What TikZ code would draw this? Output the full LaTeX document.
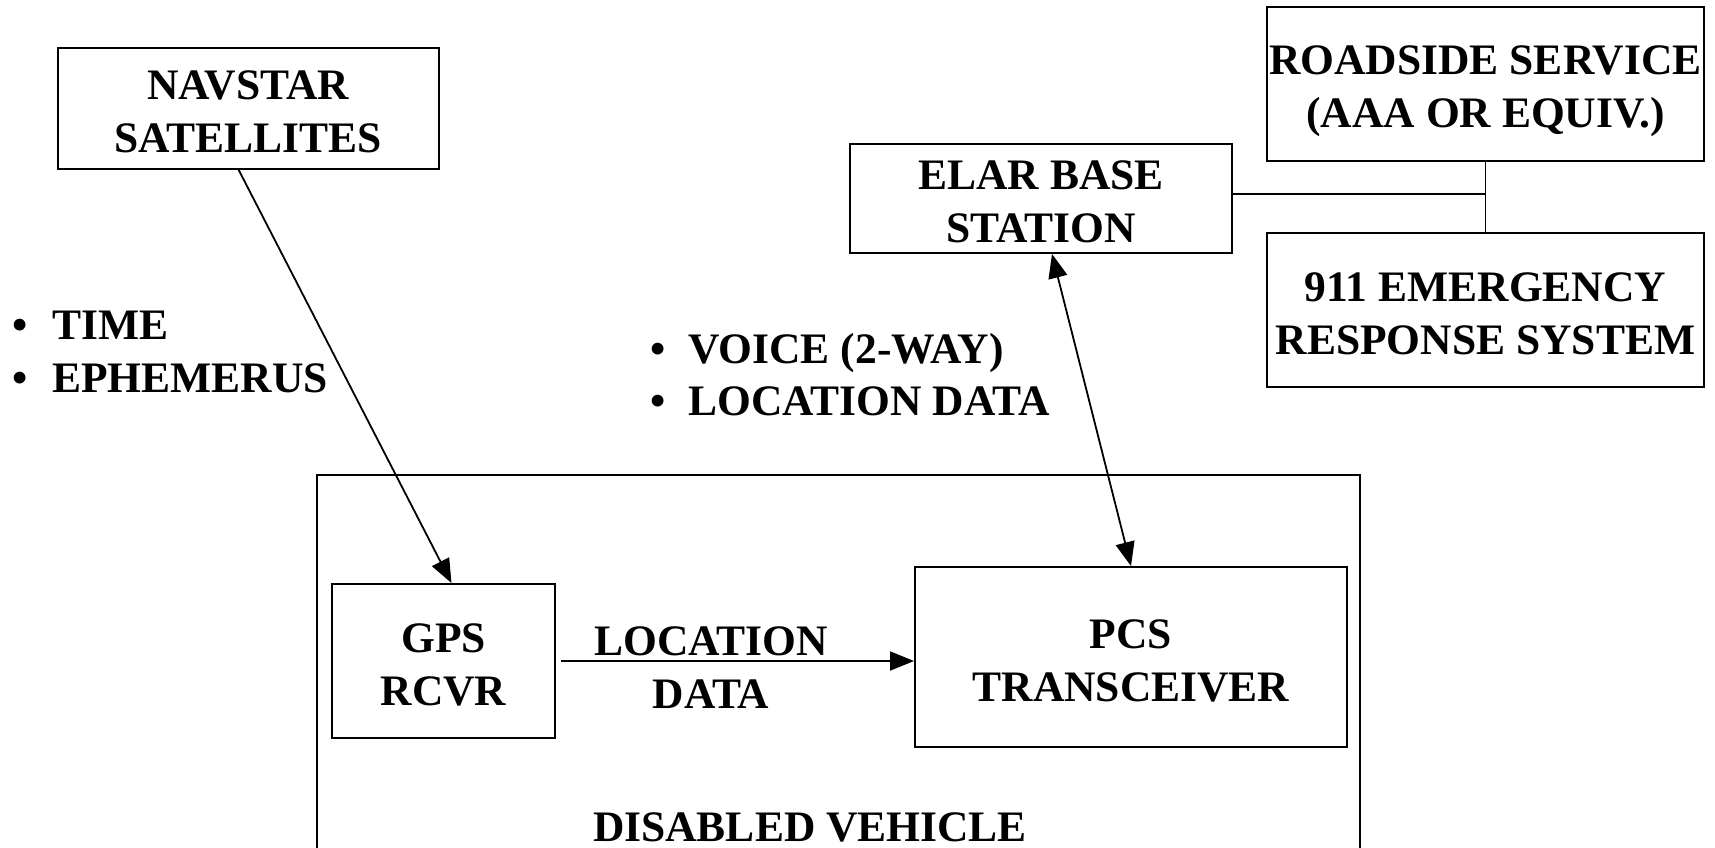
\documentclass[tikz,border=0pt]{standalone}
\usepackage{fontspec}
\setmainfont{Liberation Serif}
\usetikzlibrary{arrows.meta,calc}
\newcommand\topstrut{\rule{0pt}{45pt}}
\newcommand\botstrut{\rule[-10pt]{0pt}{10pt}}
\begin{document}
\begin{tikzpicture}[x=1pt,y=-1pt,
  every node/.style={font=\fontsize{43.5}{53}\selectfont\bfseries, inner sep=0pt},
  box/.style={draw, line width=1.9pt, align=center},
  conn/.style={line width=1.8pt},
  tip/.style={-{Triangle[length=24pt,width=19pt]}},
  dtip/.style={{Triangle[length=24pt,width=19pt]}-{Triangle[length=24pt,width=19pt]}},
  lbl/.style={anchor=base west},
]
\useasboundingbox[fill=white] (0,0) rectangle (1715,847);
% boxes
\node[box, minimum width=381pt, minimum height=121pt] (nav) at (248.3,108.3) {\topstrut NAVSTAR\\SATELLITES\botstrut};
\node[box, minimum width=437pt, minimum height=154pt] (road) at (1485.5,83.7) {\topstrut ROADSIDE SERVICE\\(AAA OR EQUIV.)\botstrut};
\node[box, minimum width=382pt, minimum height=109pt] (elar) at (1041,198.5) {\topstrut ELAR BASE\\STATION\botstrut};
\node[box, minimum width=437pt, minimum height=154pt] (e911) at (1485.5,310) {\topstrut 911 EMERGENCY\\RESPONSE SYSTEM\botstrut};
\node[draw, line width=1.9pt, minimum width=1043pt, minimum height=425pt] (veh) at (838.5,687.5) {};
\node[box, minimum width=223pt, minimum height=154pt] (gps) at (443.5,661) {\topstrut GPS\\RCVR\botstrut};
\node[box, minimum width=432pt, minimum height=180pt] (pcs) at (1131,657) {\topstrut PCS\\TRANSCEIVER\botstrut};
% labels
\node[anchor=base] (vehlbl) at (810,841) {DISABLED VEHICLE};
\node[align=center] (locdata) at (711,668) {LOCATION\\DATA};
\node[anchor=base] (b1) at (20.5,339) {•};
\node[lbl] (t1) at (52,339) {TIME};
\node[anchor=base] (b2) at (20.5,392) {•};
\node[lbl] (t2) at (52,392) {EPHEMERUS};
\node[anchor=base] (b3) at (658,363) {•};
\node[lbl] (t3) at (688,363) {VOICE (2-WAY)};
\node[anchor=base] (b4) at (658,415) {•};
\node[lbl] (t4) at (688,415) {LOCATION DATA};
% connectors
\draw[conn, tip] ([xshift=-9.7pt]nav.south) -- ([xshift=8pt]gps.north);
\draw[conn, dtip] ([xshift=11pt]elar.south) -- (pcs.north);
\draw[conn, tip] ([xshift=5pt]gps.east) -- (gps.east -| pcs.west);
\coordinate (j) at ([yshift=4.5pt]elar.east -| road.south);
\draw[conn] ([yshift=4.5pt]elar.east) -- (j);
\draw[conn] (road.south) -- (e911.north);
\end{tikzpicture}
\end{document}
